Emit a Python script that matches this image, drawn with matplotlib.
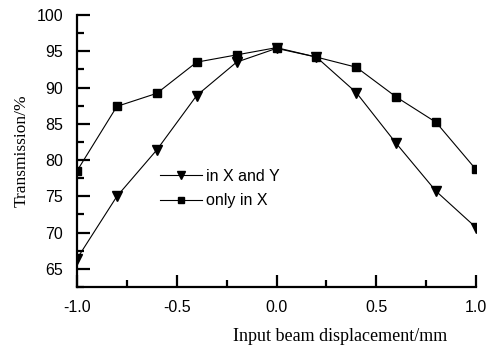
import matplotlib
matplotlib.use("Agg")
import matplotlib.pyplot as plt
from matplotlib.ticker import MultipleLocator, FuncFormatter

# data
displacement = [-1.0, -0.8, -0.6, -0.4, -0.2, 0.0, 0.2, 0.4, 0.6, 0.8, 1.0]
trans_xy = [66.4, 75.0, 81.4, 88.9, 93.5, 95.4, 94.2, 89.3, 82.3, 75.7, 70.7]
trans_x = [78.5, 87.4, 89.2, 93.5, 94.5, 95.5, 94.2, 92.8, 88.7, 85.2, 78.7]

sans = "Liberation Sans"
serif = "Liberation Serif"

fig = plt.figure(figsize=(4.88, 3.51), dpi=100)
ax = fig.add_axes([77 / 488, 1 - 287 / 351, (476 - 77) / 488, (287 - 15) / 351])

ax.plot(displacement, trans_xy, color="black", lw=0.8, marker="v", ms=7,
        label="in X and Y")
ax.plot(displacement, trans_x, color="black", lw=0.8, marker="s", ms=6,
        label="only in X")

ax.set_xlim(-1.0, 1.0)
ax.set_ylim(62.5, 100)
ax.xaxis.set_major_locator(MultipleLocator(0.5))
ax.xaxis.set_minor_locator(MultipleLocator(0.25))
ax.yaxis.set_major_locator(MultipleLocator(5))
ax.yaxis.set_minor_locator(MultipleLocator(2.5))
ax.xaxis.set_major_formatter(FuncFormatter(lambda v, p: f"{v:.1f}"))
ax.yaxis.set_major_formatter(FuncFormatter(lambda v, p: f"{v:.0f}"))

for s in ["top", "right"]:
    ax.spines[s].set_visible(False)
for s in ["left", "bottom"]:
    ax.spines[s].set_linewidth(1.6)

ax.tick_params(which="major", direction="in", length=9, width=1.6,
               labelsize=11.5)
ax.tick_params(axis="x", which="major", pad=9)
ax.tick_params(axis="y", which="major", pad=10)
ax.tick_params(which="minor", direction="in", length=5, width=1.6)
for lab in ax.get_xticklabels() + ax.get_yticklabels():
    lab.set_fontfamily(sans)

ax.set_xlabel("Input beam displacement/mm", fontfamily=serif, fontsize=13,
              labelpad=10, x=0.66)
ax.set_ylabel("Transmission/%", fontfamily=serif, fontsize=12.5, labelpad=5)

ax.legend(loc="upper left", bbox_to_anchor=(0.208, 0.435), frameon=False,
          prop={"family": sans, "size": 11.5}, handlelength=2.6,
          handletextpad=0.3, labelspacing=0.6, borderaxespad=0, borderpad=0,
          markerscale=0.75)

fig.savefig("out.png", dpi=100)
